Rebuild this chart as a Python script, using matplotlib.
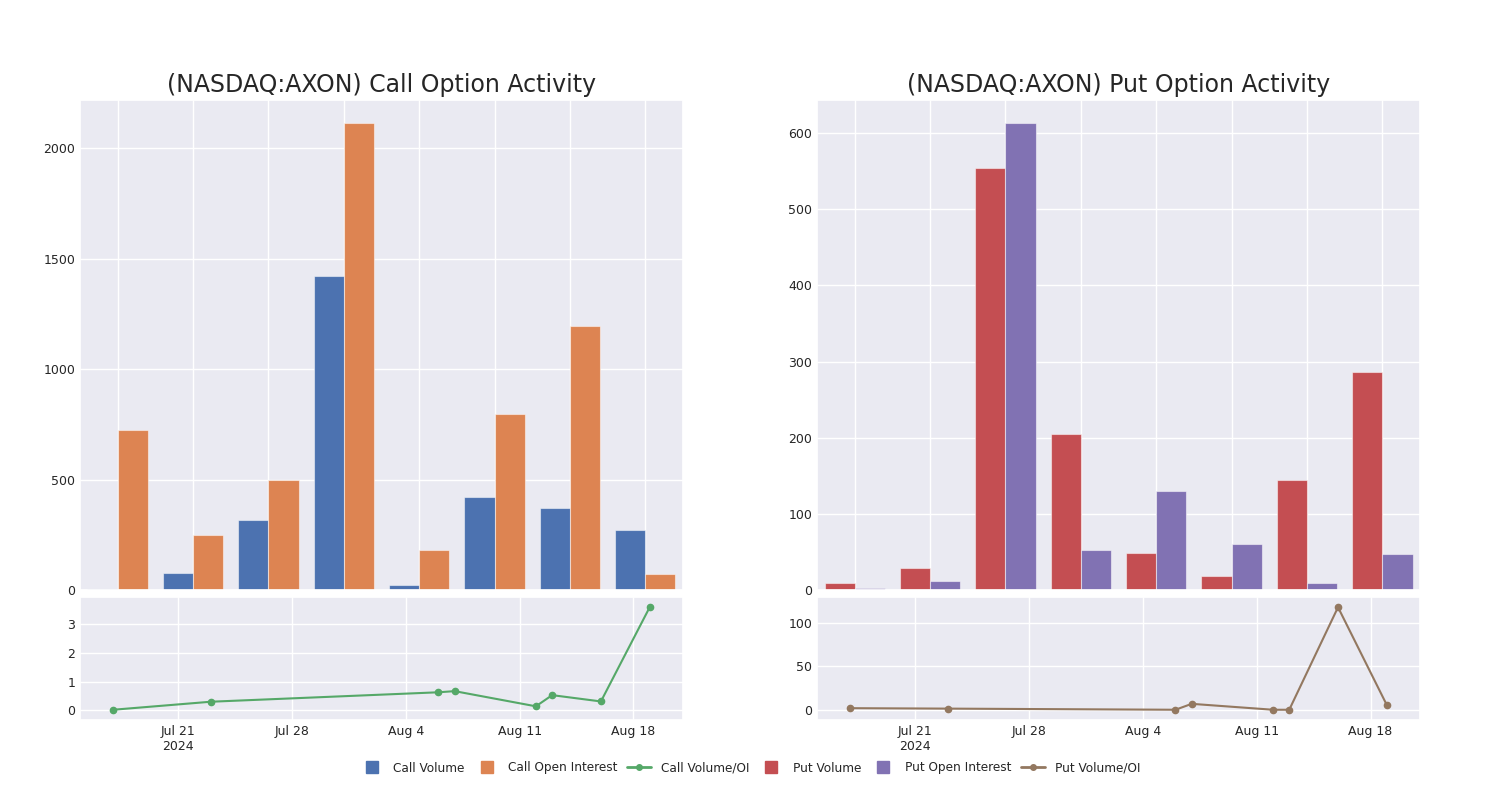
import numpy as np
import pandas as pd
import matplotlib
matplotlib.use("Agg")
import matplotlib.pyplot as plt
import seaborn as sns
from matplotlib.lines import Line2D
from matplotlib.ticker import MultipleLocator

sns.set_theme(style="darkgrid")
plt.rcParams['font.family'] = ['DejaVu Sans']

# dates of the 8 data points
dates = pd.to_datetime(["2024-07-17", "2024-07-23", "2024-08-06", "2024-08-07",
                        "2024-08-12", "2024-08-13", "2024-08-16", "2024-08-19"])

call_volume = [3, 77, 315, 1423, 21, 420, 373, 270]
call_oi = [723, 250, 500, 2114, 183, 798, 1195, 71]
call_ratio = [0.02, 0.3, 0.63, 0.67, 0.14, 0.53, 0.31, 3.6]

put_volume = [9, 29, 554, 205, 48, 19, 145, 286]
put_oi = [2, 12, 613, 53, 130, 60, 9, 47]
put_ratio = [2, 1.5, 0.2, 7, 0.2, 0.2, 118, 5.7]

tick_dates = pd.to_datetime(["2024-07-21", "2024-07-28", "2024-08-04", "2024-08-11", "2024-08-18"])
tick_labels = ["Jul 21\n2024", "Jul 28", "Aug 4", "Aug 11", "Aug 18"]

pal = sns.color_palette("deep")
c_blue, c_orange, c_green, c_red, c_purple, c_brown = pal[0], pal[1], pal[2], pal[3], pal[4], pal[5]

fig = plt.figure(figsize=(15, 8), dpi=100)


def panel(left, title, vol, oi, ratio, c1, c2, c3, top_step, bot_step):
    ax_top = fig.add_axes([left, 0.2625, 0.402, 0.6125])
    ax_bot = fig.add_axes([left, 0.1, 0.402, 0.15375])

    x = np.arange(len(vol))
    w = 0.4
    ax_top.bar(x - w / 2, vol, width=w, color=c1, edgecolor=(1, 1, 1, 0.5), linewidth=0.8)
    ax_top.bar(x + w / 2, oi, width=w, color=c2, edgecolor=(1, 1, 1, 0.5), linewidth=0.8)
    ax_top.set_xlim(-0.5, len(vol) - 0.5)
    ax_top.set_xticks(x)
    ax_top.set_xticklabels([])
    ax_top.yaxis.set_major_locator(MultipleLocator(top_step))
    ax_top.tick_params(axis='both', length=0, labelsize=9)
    ax_top.set_title(title, fontsize=17)

    ax_bot.plot(dates, ratio, color=c3, marker='o', markersize=4.5, linewidth=1.5)
    ax_bot.margins(x=0.062, y=0.1)
    ax_bot.set_xticks(tick_dates)
    ax_bot.set_xticklabels(tick_labels)
    ax_bot.yaxis.set_major_locator(MultipleLocator(bot_step))
    ax_bot.tick_params(axis='both', length=0, labelsize=9)
    return ax_top, ax_bot


panel(0.0533, "(NASDAQ:AXON) Call Option Activity", call_volume, call_oi, call_ratio,
      c_blue, c_orange, c_green, 500, 1)
panel(0.5447, "(NASDAQ:AXON) Put Option Activity", put_volume, put_oi, put_ratio,
      c_red, c_purple, c_brown, 100, 50)

handles = [
    Line2D([], [], color=c_blue, marker='s', linestyle='none', markersize=8),
    Line2D([], [], color=c_orange, marker='s', linestyle='none', markersize=8),
    Line2D([], [], color=c_green, marker='o', markersize=4, linewidth=2),
    Line2D([], [], color=c_red, marker='s', linestyle='none', markersize=8),
    Line2D([], [], color=c_purple, marker='s', linestyle='none', markersize=8),
    Line2D([], [], color=c_brown, marker='o', markersize=4, linewidth=2),
]
labels = ["Call Volume", "Call Open Interest", "Call Volume/OI",
          "Put Volume", "Put Open Interest", "Put Volume/OI"]
fig.legend(handles, labels, loc='center', bbox_to_anchor=(0.5, 0.04), ncol=6,
           frameon=False, fontsize=8.7, handlelength=2, columnspacing=0.8)

fig.savefig("out.png")
